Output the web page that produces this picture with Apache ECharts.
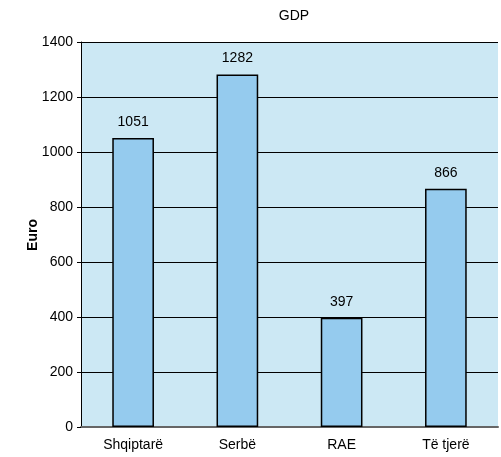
<!DOCTYPE html>
<html><head><meta charset="utf-8">
<script src="https://cdn.jsdelivr.net/npm/echarts@6/dist/echarts.min.js"></script>
<style>html,body{margin:0;padding:0;background:#fff}#c{width:501px;height:457px}</style>
</head><body><div id="c"></div>
<script>
const categories = ["Shqiptarë", "Serbë", "RAE", "Të tjerë"];
const values = [1051, 1282, 397, 866];
const chartTitle = "GDP";
const yAxisName = "Euro";

const chart = echarts.init(document.getElementById('c'), null, {renderer: 'canvas'});
const font = 'Liberation Sans, Arial, sans-serif';
chart.setOption({
  animation: false,
  title: {text: chartTitle, left: 289, top: 4, textAlign: 'center',
    textStyle: {fontFamily: font, fontSize: 14, fontWeight: 'normal', color: '#000'}},
  grid: {left: 81, right: 3, top: 42, bottom: 30, show: true, backgroundColor: '#cce8f4', borderWidth: 0},
  graphic: [{type: 'text', x: 33, y: 235, rotation: Math.PI / 2,
    style: {text: yAxisName, fontFamily: font, fontSize: 14, fontWeight: 'bold', fill: '#000',
      textAlign: 'center', textVerticalAlign: 'middle'}}],
  xAxis: {type: 'category', data: categories,
    axisLine: {show: true, lineStyle: {color: '#666', width: 2}},
    axisTick: {show: false},
    axisLabel: {fontFamily: font, fontSize: 14, color: '#000', margin: 11}},
  yAxis: {type: 'value', min: 0, max: 1400, interval: 200,
    axisLine: {show: true, lineStyle: {color: '#000', width: 1}},
    axisTick: {show: true, length: 4, lineStyle: {color: '#000'}},
    splitLine: {show: true, lineStyle: {color: '#000', width: 1}},
    axisLabel: {fontFamily: font, fontSize: 14, color: '#000', margin: 8, formatter: v => String(v)}},
  series: [{type: 'bar', data: values, barWidth: '40%',
    itemStyle: {color: '#95cbee', borderColor: '#000', borderWidth: 1.5},
    label: {show: true, position: 'top', distance: 9, fontFamily: font, fontSize: 14, color: '#000'}}]
});
</script></body></html>
